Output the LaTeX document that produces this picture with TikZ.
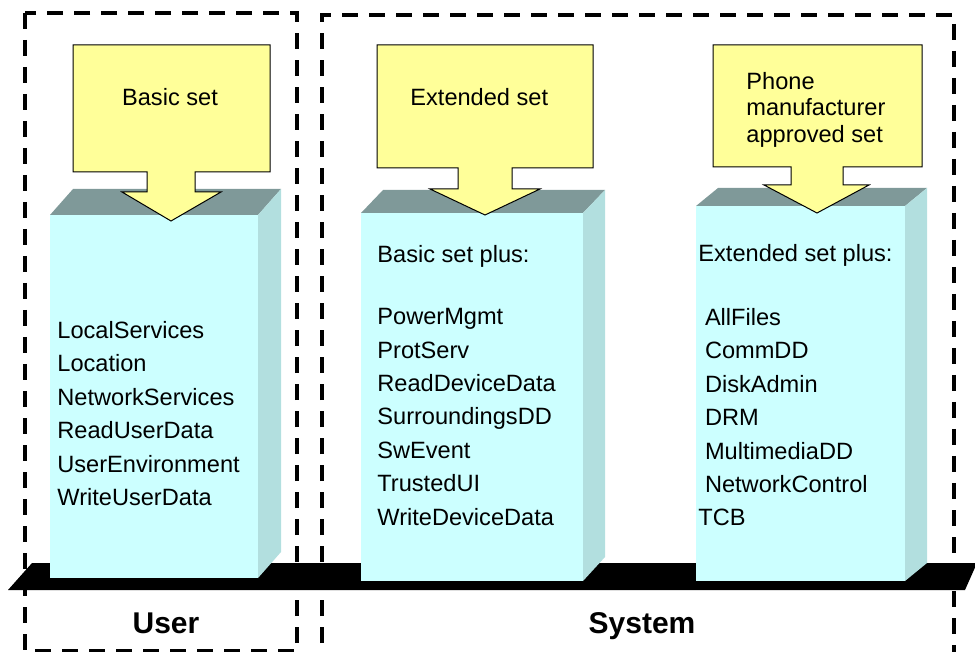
\documentclass[tikz,border=0pt]{standalone}
\usepackage{fontspec}
\setmainfont{Liberation Sans}
\usepackage{xcolor}
\usepackage{tikz}
\definecolor{setyellow}{HTML}{FFFF99}
\definecolor{boxfront}{HTML}{CCFFFF}
\definecolor{boxside}{HTML}{B2DFDF}
\definecolor{boxtop}{HTML}{7F9999}
\tikzstyle{zone}     = [draw=black, line width=1.75pt, dash pattern=on 8pt off 5.5pt]
\tikzstyle{front}    = [fill=boxfront]
\tikzstyle{side}     = [fill=boxside]
\tikzstyle{lid}      = [fill=boxtop]
\tikzstyle{setarrow} = [fill=setyellow, draw=black, line width=0.5pt, line join=miter]
\tikzstyle{settext}  = [inner sep=0pt, align=left, font=\fontsize{11.8}{13.25}\selectfont]
\tikzstyle{capslist} = [inner sep=0pt, align=left, font=\fontsize{11.8}{16.7}\selectfont]
\tikzstyle{level}    = [inner sep=0pt, font=\fontsize{15}{18}\selectfont\bfseries]

\begin{document}
\begin{tikzpicture}[x=0.5pt, y=-0.5pt]
    \useasboundingbox (0,0) rectangle (975,652);

    % dashed zones
    \draw [zone] (25,13) rectangle (297,651);
    \draw [zone] (322,670) -- (322,15) -- (954,15) -- (954,670);

    % platform
    \fill (8,590) -- (32,563) -- (977,563) -- (965,590) -- cycle;

    % user box
    \fill [front] (50,215) rectangle (258,578);
    \fill [lid]   (50,215) -- (73,189) -- (281,189) -- (258,215) -- cycle;
    \fill [side]  (258,215) -- (281,189) -- (281,552) -- (258,578) -- cycle;
    % system box
    \fill [front] (361,213) rectangle (583,581);
    \fill [lid]   (361,213) -- (383,190) -- (605,190) -- (583,213) -- cycle;
    \fill [side]  (583,213) -- (605,190) -- (605,557) -- (583,581) -- cycle;
    % manufacturer box
    \fill [front] (696,206) rectangle (905,581);
    \fill [lid]   (696,206) -- (718,188) -- (927,188) -- (905,206) -- cycle;
    \fill [side]  (905,206) -- (927,188) -- (927,563) -- (905,581) -- cycle;

    % set arrows
    \draw [setarrow] (73,45) -- (270,45) -- (270,172) -- (195,172) -- (195,192) -- (221,192)
        -- (171,221) -- (122,192) -- (147,192) -- (147,172) -- (73,172) -- cycle;
    \draw [setarrow] (377,45) -- (593,45) -- (593,168) -- (512,168) -- (512,189) -- (540,189)
        -- (485,215) -- (430,189) -- (458,189) -- (458,168) -- (377,168) -- cycle;
    \draw [setarrow] (713,45) -- (922,45) -- (922,167) -- (843,167) -- (843,185) -- (869,185)
        -- (817,213) -- (764,185) -- (791,185) -- (791,167) -- (713,167) -- cycle;

    \node (basicset)  [settext, anchor=base]       at (170,106) {Basic set};
    \node (extset)    [settext, anchor=base west]  at (410,106) {Extended set};
    \node (phoneset)  [settext, anchor=north west] at (746,72)  {Phone\\manufacturer\\approved set};

    % capability lists
    \node (userlist)  [capslist, anchor=north west] at (57,321)
        {LocalServices\\Location\\NetworkServices\\ReadUserData\\UserEnvironment\\WriteUserData};
    \node (basicplus) [capslist, anchor=base west]  at (377,263) {Basic set plus:};
    \node (syslist)   [capslist, anchor=north west] at (377,308)
        {PowerMgmt\\ProtServ\\ReadDeviceData\\SurroundingsDD\\SwEvent\\TrustedUI\\WriteDeviceData};
    \node (extplus)   [capslist, anchor=base west]  at (698,262) {Extended set plus:};
    \node (phonelist) [capslist, anchor=north west] at (698,308)
        {\hspace*{3.3pt}AllFiles\\\hspace*{3.3pt}CommDD\\\hspace*{3.3pt}DiskAdmin\\\hspace*{3.3pt}DRM\\
         \hspace*{3.3pt}MultimediaDD\\\hspace*{3.3pt}NetworkControl\\TCB};

    % levels
    \node (userlevel) [level, anchor=base] at (166,633) {User};
    \node (syslevel)  [level, anchor=base] at (642,633) {System};
\end{tikzpicture}
\end{document}
